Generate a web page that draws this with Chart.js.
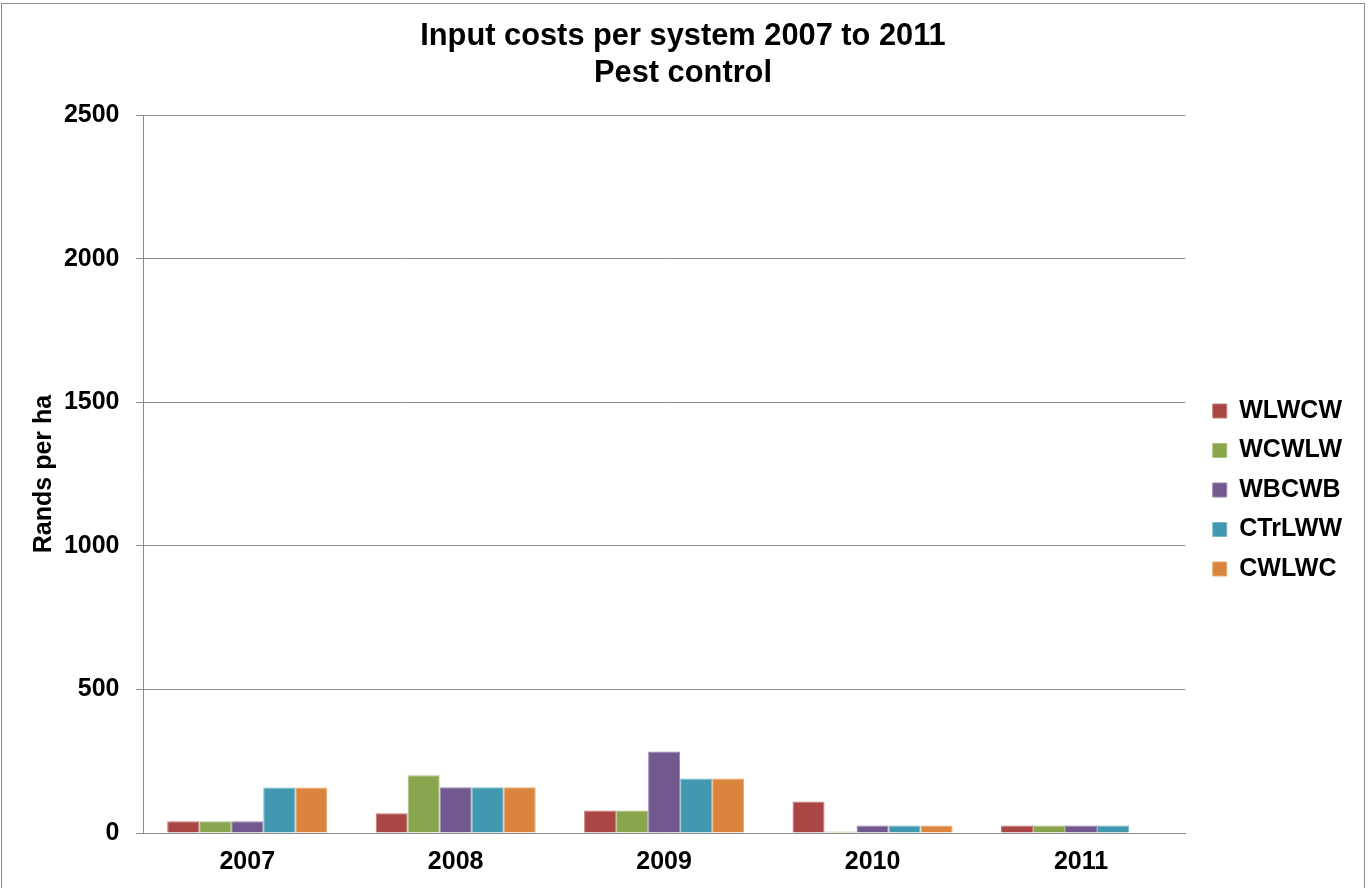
<!DOCTYPE html>
<html>
<head>
<meta charset="utf-8">
<title>Input costs per system 2007 to 2011 - Pest control</title>
<script src="https://cdn.jsdelivr.net/npm/chart.js@4.4.1/dist/chart.umd.min.js"></script>
<style>
  html, body { margin: 0; padding: 0; background: #fff; overflow: hidden; }
  #frame { position: absolute; left: 1px; top: 3px; width: 1362px; height: 900px; border: 1px solid #8c8c8c; }
  #wrap { position: absolute; left: 0; top: 0; width: 1369px; height: 888px; }
</style>
</head>
<body>
<div id="frame"></div>
<div id="wrap"><canvas id="cost-chart" width="1369" height="888"></canvas></div>
<script>
// Years on the category axis
const years = ['2007', '2008', '2009', '2010', '2011'];

// Pest control cost per rotation system (Rands per ha)
const wlwcw  = [41, 69, 78, 110, 26];
const wcwlw  = [41, 201, 78, 5, 26];
const wbcwb  = [41, 159, 284, 26, 26];
const ctrlww = [158, 159, 190, 26, 26];
const cwlwc  = [158, 159, 190, 26, null];

// Value axis ticks
const yTicks = [0, 500, 1000, 1500, 2000, 2500];

const gray = '#8c8c8c';
const font = "'Liberation Sans', Arial, sans-serif";

Chart.defaults.font.family = font;
Chart.defaults.font.weight = 'bold';
Chart.defaults.font.size = 25;
Chart.defaults.color = '#000';

function series(label, data, fill, edge) {
    return {
        label: label,
        data: data,
        backgroundColor: fill,
        borderColor: edge,
        borderWidth: 1,
        barPercentage: 1,
        categoryPercentage: 0.768
    };
}

const costChart = new Chart(document.getElementById('cost-chart'), {
    type: 'bar',
    data: {
        labels: years,
        datasets: [
            series('WLWCW', wlwcw, '#AA4643', '#c27c79'),
            series('WCWLW', wcwlw, '#89A54E', '#a9c07d'),
            series('WBCWB', wbcwb, '#71588F', '#9582ad'),
            series('CTrLWW', ctrlww, '#4198AF', '#79b8c9'),
            series('CWLWC', cwlwc, '#DB843D', '#e8a874')
        ]
    },
    options: {
        responsive: false,
        animation: false,
        layout: {
            padding: { left: 14, right: 17 }
        },
        scales: {
            x: {
                grid: { display: false, drawTicks: false },
                border: { display: true, color: gray, width: 1 },
                ticks: { padding: 14 },
                afterFit: function(scale) { scale.height = 55; }
            },
            y: {
                min: yTicks[0],
                max: yTicks[yTicks.length - 1],
                afterBuildTicks: function(scale) {
                    scale.ticks = yTicks.map(function(v) { return { value: v }; });
                },
                grid: { color: gray, lineWidth: 1, tickLength: 7 },
                border: { color: gray, width: 1 },
                ticks: {
                    padding: 16.5,
                    callback: function(value) { return String(value); }
                },
                title: {
                    display: true,
                    text: 'Rands per ha',
                    padding: { top: 15, bottom: 0 }
                },
                afterFit: function(scale) { scale.width = 129; }
            },
            // empty strip between the plot and the legend
            gap: {
                type: 'linear',
                position: 'right',
                display: true,
                grid: { display: false },
                border: { display: false },
                ticks: { display: false },
                afterFit: function(scale) { scale.width = 13; }
            }
        },
        plugins: {
            title: {
                display: true,
                text: ['Input costs per system 2007 to 2011', 'Pest control'],
                font: { size: 30.8, weight: 'bold', lineHeight: 1.2 },
                color: '#000',
                padding: { top: 18.5, bottom: 22.6 }
            },
            legend: {
                position: 'right',
                align: 'center',
                fullSize: false,
                title: {
                    display: true,
                    text: '',
                    font: { size: 10 },
                    padding: 10
                },
                labels: {
                    boxWidth: 14,
                    boxHeight: 14,
                    padding: 14.5,
                    color: '#000',
                    font: { size: 25, weight: 'bold' }
                }
            },
            tooltip: { enabled: false }
        }
    }
});
</script>
</body>
</html>
